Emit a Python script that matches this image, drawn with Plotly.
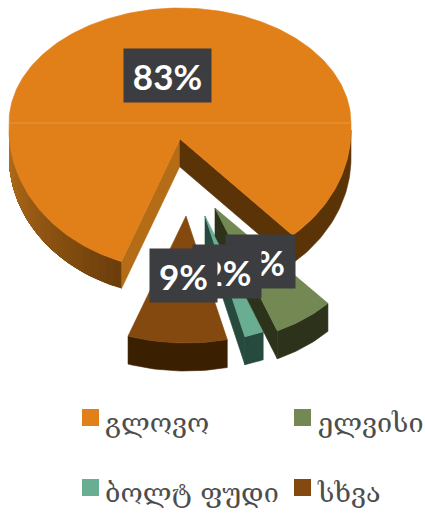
import math
import plotly.graph_objects as go

categories = ["გლოვო", "ელვისი", "ბოლტ ფუდი", "სხვა"]
values = [83, 6, 2, 9]
colors = ["#E17F19", "#738853", "#69AD92", "#84490E"]
side_colors = ["#5A3307", "#2C331A", "#264A3E", "#3A2000"]
wall_colors = ["#B56C17", "#2C331A", "#264A3E", None]

# layout of the exploded, tilted pie (pixels on a 425x513 plane)
START = 110
DEPTH = 28
apex = [(180, 139), (215, 208), (205, 216), (186, 216)]
radii = [(171, 140), (162, 133), (154, 125), (178, 127)]
rotation = [0, -3, -2.6, -1]
label_pos = [(167.5, 75.5), (260.5, 261.5), (227, 271.5), (183.5, 275.5)]
label_w = [87, 69, 68, 67]
legend_pos = [(90.5, 417.5), (302.5, 417.5), (90.5, 487.5), (302.5, 487.5)]
legend_text_pos = [(105, 425), (318, 425), (105, 495), (318, 495)]

fig = go.Figure()


def poly(pts, color, lw=0.6):
    fig.add_trace(go.Scatter(
        x=[p[0] for p in pts] + [pts[0][0]], y=[p[1] for p in pts] + [pts[0][1]],
        mode="lines", fill="toself", fillcolor=color,
        line=dict(color=color, width=lw), hoverinfo="skip", showlegend=False))


def main_pt(a):
    r = math.radians(a)
    s, c = math.sin(r), math.cos(r)
    rx = radii[0][0]
    if s >= 0:
        return (180 + rx * c, 130 + radii[0][1] * s)
    return (180 + rx * c, 123 + 115 * s)


def wedge_pt(i, a):
    r = math.radians(a)
    return (apex[i][0] + radii[i][0] * math.cos(r), apex[i][1] + radii[i][1] * math.sin(r))


def frange(a0, a1, n):
    return [a0 + (a1 - a0) * k / n for k in range(n + 1)]


def shift(pts, d=DEPTH):
    return [(x, y + d) for x, y in pts]


def mix(c1, c2, t):
    a = [int(c1[j:j + 2], 16) for j in (1, 3, 5)]
    b = [int(c2[j:j + 2], 16) for j in (1, 3, 5)]
    return "#%02X%02X%02X" % tuple(round(u + (v - u) * t) for u, v in zip(a, b))


# angular spans from the data
spans = []
cur = START
for v in values:
    spans.append((cur, cur + v * 3.6))
    cur += v * 3.6

# main slice
a0, a1 = spans[0]
end = a1 - 360
left_corner = main_pt(a0)
right_corner = main_pt(end)
poly([apex[0], left_corner] + shift([left_corner, apex[0]], 27), wall_colors[0])
poly([apex[0], right_corner] + shift([right_corner, apex[0]]), side_colors[0])
right_arc = [main_pt(a) for a in frange(0, end, 40)]
poly(right_arc + shift(right_arc[::-1]), side_colors[0])
steps = 24
for k in range(steps):
    a = a0 + (180 - a0) * k / steps
    seg = [main_pt(x) for x in frange(a, 180, 30)]
    col = mix("#6B3D0B", "#B8701A", (k + 0.5) / steps)
    poly(seg + shift(seg[::-1], 27), col, lw=0)
face = [apex[0]] + [main_pt(a) for a in frange(a0, a1, 300)]
poly(face, colors[0])
fig.add_trace(go.Scatter(
    x=[main_pt(180)[0], main_pt(360)[0]], y=[123, 123], mode="lines",
    line=dict(color="#E59A45", width=1), hoverinfo="skip", showlegend=False))

# exploded slices
for i in (3, 2, 1):
    a0, a1 = spans[i]
    a0 += rotation[i]
    a1 += rotation[i]
    arc = [wedge_pt(i, a) for a in frange(a0, a1, 24)]
    if wall_colors[i]:
        poly([apex[i], arc[-1]] + shift([arc[-1], apex[i]]), wall_colors[i])
    poly(arc + shift(arc[::-1]), side_colors[i])
    poly([apex[i]] + arc, colors[i])

# legend
for i, cat in enumerate(categories):
    fig.add_trace(go.Scatter(
        x=[legend_pos[i][0]], y=[legend_pos[i][1]], mode="markers",
        marker=dict(symbol="square", size=17, color=colors[i], line=dict(width=0)),
        hoverinfo="skip", showlegend=False))
    fig.add_trace(go.Scatter(
        x=[legend_text_pos[i][0]], y=[legend_text_pos[i][1]], mode="text",
        text=[cat], textposition="middle right",
        textfont=dict(family="DejaVu Serif, DejaVu Sans", size=27, color="#4D4D4D"),
        hoverinfo="skip", showlegend=False))

# percentage labels
for i, v in enumerate(values):
    fig.add_annotation(
        x=label_pos[i][0], y=label_pos[i][1], text=f"<b>{v}%</b>", showarrow=False,
        width=label_w[i], height=53, bgcolor="#3C3D40", borderpad=0,
        align="center", valign="middle",
        font=dict(family="Lato", size=35, color="#FFFFFF"))

fig.update_layout(
    width=425, height=513, autosize=False,
    margin=dict(l=0, r=0, t=0, b=0),
    paper_bgcolor="white", plot_bgcolor="white", showlegend=False,
    xaxis=dict(range=[0, 425], visible=False, fixedrange=True),
    yaxis=dict(range=[513, 0], visible=False, fixedrange=True),
)
fig.write_html("out.html", config={"displayModeBar": False},
               post_script="document.body.style.margin='0';")
